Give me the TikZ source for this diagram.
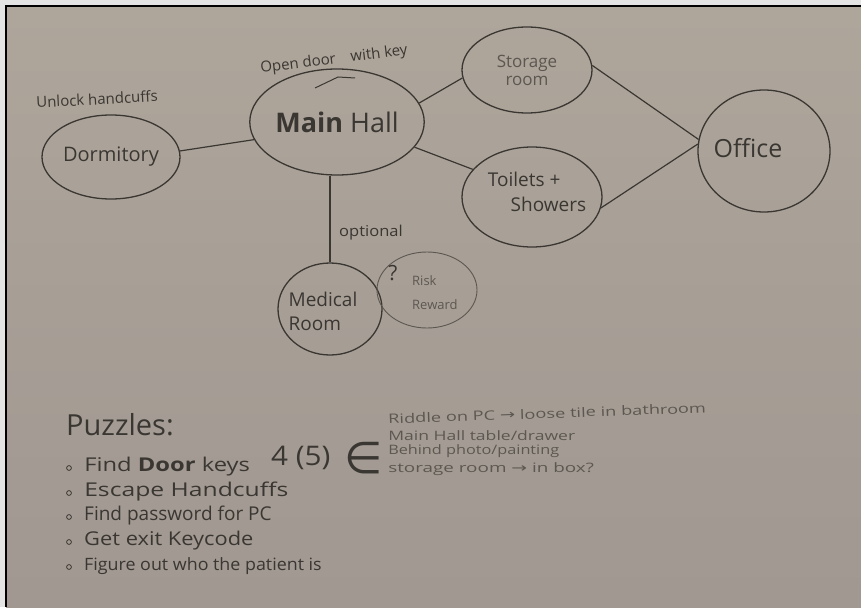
\documentclass[tikz,border=0pt]{standalone}
\usepackage{fontspec}
\setmainfont{Open Sans}
\newfontfamily\symf{DejaVu Sans}
\usetikzlibrary{shapes.geometric}
\definecolor{paper}{RGB}{174,166,155}
\definecolor{paperdark}{RGB}{160,152,145}
\definecolor{outside}{RGB}{228,228,228}
\definecolor{ink}{RGB}{58,54,50}
\definecolor{inklight}{RGB}{92,87,81}
\newcommand\fsz[1]{\fontsize{#1}{#1}\selectfont}
\tikzset{
  room/.style={ellipse, draw=ink, line width=1.3pt, inner sep=0pt, text=ink, align=center},
  link/.style={draw=ink, line width=1.2pt},
  hand/.style={text=ink, inner sep=0pt},
  handlight/.style={text=inklight, inner sep=0pt},
  bulletdot/.style={draw=ink, line width=0.8pt}
}
\begin{document}
\begin{tikzpicture}[x=1pt,y=-1pt]
\useasboundingbox (0,0) rectangle (861,607);
\fill[outside] (0,0) rectangle (861,607);
\shade[top color=paper, bottom color=paperdark] (6,6) rectangle (861,607);
\draw[black, line width=2pt] (6,607) -- (6,6) -- (861,6);

% rooms
\node[room, minimum width=138pt, minimum height=84pt, font=\fsz{20}] (dorm) at (111,157) {Dormitory};
\node[room, minimum width=170pt, minimum height=106pt, font=\fsz{27}] (hall) at (337,122) {\textbf{Main} Hall};
\node[room, minimum width=130pt, minimum height=86pt, text=inklight, font=\fontsize{17}{18}\selectfont] (store) at (527,70) {Storage\\room};
\node[room, minimum width=140pt, minimum height=100pt] (toilet) at (532,197) {};
\node[hand, align=left, font=\fontsize{19}{25}\selectfont] (toilett) at (537,192) {Toilets +\\\hspace{1.2em}Showers};
\node[room, minimum width=132pt, minimum height=122pt] (office) at (764,151) {};
\node[hand, font=\fsz{25}] (officet) at (748,148) {Office};
\node[room, minimum width=104pt, minimum height=92pt] (med) at (330,309) {};
\node[hand, align=left, font=\fontsize{19}{24}\selectfont] (medt) at (323,311) {Medical\\Room};
\node[room, draw=inklight, line width=0.9pt, minimum width=100pt, minimum height=76pt] (risk) at (427,290) {};
\node[hand, font=\fsz{21}] (qmark) at (393,273) {?};
\node[handlight, anchor=west, align=left, font=\fontsize{13}{24}\selectfont] (riskt) at (412,293) {Risk\\Reward};

% labels
\node[hand, rotate=3, font=\fsz{15}] (lunlock) at (97,99) {Unlock handcuffs};
\node[hand, rotate=7, font=\fsz{15}] (lopen) at (334,60) {Open door\quad with key};
\node[hand, xscale=1.1, font=\fsz{15}] (lopt) at (371,233) {optional};
\draw[ink, line width=1pt] (315,88) -- (338,77) -- (355,78);

% connectors
\draw[link] (dorm.5) -- (hall.192);
\draw[link] (hall.13) -- (store.187);
\draw[link] (hall.-18) -- (toilet.155);
\draw[link] (store.4) -- (office.170);
\draw[link] (toilet.-9) -- (office.174);
\draw[link] (hall.south -| med.north) -- (med.north);

% puzzles
\node[hand, anchor=west, font=\fsz{29}] (ptitle) at (66,425) {Puzzles:};
\foreach \yy in {468,493,517,542,567} \draw[bulletdot] (69,\yy) circle (2.4pt);
\node[hand, anchor=west, xscale=1.25, font=\fsz{19}] (p1) at (84,467) {Find \textbf{Door} keys};
\node[hand, anchor=west, xscale=1.1, font=\fsz{27}] (p1n) at (271,458) {4 (5)};
\node[hand, font=\symf\fsz{44}] (elem) at (364,458) {∈};
\node[hand, anchor=west, xscale=1.3, font=\fsz{19}] (p2) at (84,492) {Escape Handcuffs};
\node[hand, anchor=west, xscale=1.0, font=\fsz{19}] (p3) at (84,516) {Find password for PC};
\node[hand, anchor=west, xscale=1.15, font=\fsz{19}] (p4) at (84,541) {Get exit Keycode};
\node[hand, anchor=west, xscale=1.05, font=\fsz{17}] (p5) at (84,566) {Figure out who the patient is};

\node[handlight, anchor=west, rotate=2, xscale=1.4, font=\fsz{13}] (r1) at (388,419) {Riddle on PC {\symf →} loose tile in bathroom};
\node[handlight, anchor=west, xscale=1.35, font=\fsz{13}] (r2) at (388,436) {Main Hall table/drawer};
\node[handlight, anchor=west, xscale=1.25, font=\fsz{13}] (r3) at (388,451) {Behind photo/painting};
\node[handlight, anchor=west, xscale=1.45, font=\fsz{13}] (r4) at (388,469) {storage room {\symf →} in box?};
\end{tikzpicture}
\end{document}
